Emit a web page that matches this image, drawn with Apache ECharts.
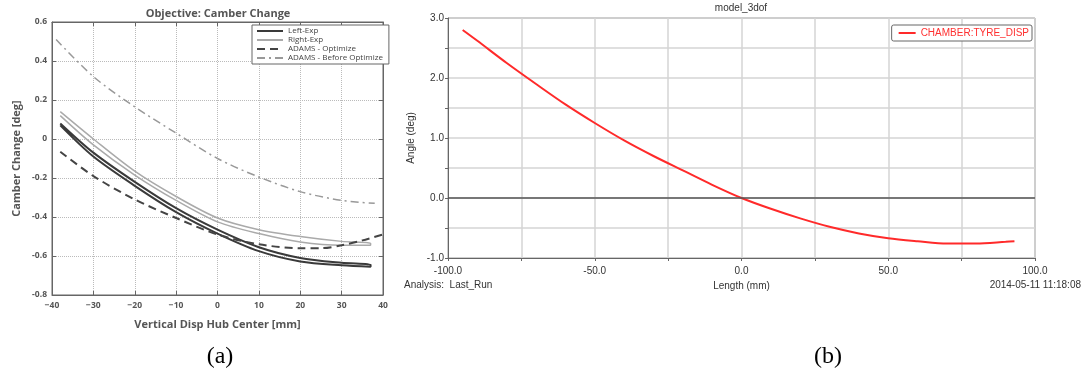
<!DOCTYPE html>
<html>
<head>
<meta charset="utf-8">
<script src="https://cdn.jsdelivr.net/npm/echarts@6/dist/echarts.min.js"></script>
<style>
  html, body { margin: 0; padding: 0; background: #fff; }
  #chart { width: 1085px; height: 374px; }
</style>
</head>
<body>
<div id="chart"></div>
<script>
// (a) camber change, x = vertical disp [mm], y = camber [deg]
var leftExp = [
  [-38, 0.08], [-30, -0.07], [-20, -0.22], [-10, -0.355], [0, -0.465], [10, -0.555],
  [20, -0.61], [30, -0.635], [37, -0.645],
  [37, -0.655], [30, -0.648], [20, -0.628], [10, -0.575], [0, -0.485], [-10, -0.375],
  [-20, -0.24], [-30, -0.09], [-38, 0.07]
];
var rightExp = [
  [-38, 0.14], [-30, 0.0], [-20, -0.165], [-10, -0.295], [0, -0.405], [10, -0.465],
  [20, -0.5], [30, -0.525], [37, -0.535],
  [37, -0.545], [30, -0.545], [20, -0.528], [10, -0.485], [0, -0.425], [-10, -0.315],
  [-20, -0.185], [-30, -0.03], [-38, 0.12]
];
var adamsOpt = [
  [-38, -0.065], [-30, -0.19], [-20, -0.31], [-10, -0.405], [0, -0.49], [10, -0.54],
  [20, -0.56], [25, -0.56], [30, -0.545], [35, -0.52], [40, -0.49]
];
var adamsBefore = [
  [-39, 0.51], [-30, 0.32], [-20, 0.165], [-10, 0.03], [0, -0.1], [10, -0.195],
  [20, -0.27], [30, -0.315], [38, -0.33]
];
var namesA = ["Left-Exp", "Right-Exp", "ADAMS - Optimize", "ADAMS - Before Optimize"];

// (b) model_3dof, x = length [mm], y = angle [deg]
var tyreDisp = [
  [-95, 2.8], [-90, 2.62], [-80, 2.25], [-70, 1.9], [-60, 1.56], [-50, 1.25],
  [-40, 0.96], [-30, 0.7], [-20, 0.46], [-10, 0.22], [0, 0.0], [10, -0.18],
  [20, -0.34], [30, -0.48], [40, -0.59], [50, -0.67], [60, -0.72], [70, -0.76],
  [80, -0.76], [90, -0.73], [93, -0.72]
];
var nameB = "CHAMBER:TYRE_DISP";

var fontA = "'Open Sans', 'DejaVu Sans', sans-serif";
var fontB = "'Liberation Sans', Arial, sans-serif";

var chart = echarts.init(document.getElementById("chart"));

// top / right frame ticks for panel (a), matlab style
function frameAxis(type, pos) {
  return {
    type: "value",
    gridIndex: 0,
    position: pos,
    min: type === "x" ? -40 : -0.8,
    max: type === "x" ? 40 : 0.6,
    interval: type === "x" ? 10 : 0.2,
    axisLine: { show: true, onZero: false, lineStyle: { color: "#666", width: 1 } },
    axisTick: { show: true, inside: true, length: 4, lineStyle: { color: "#666" } },
    axisLabel: { show: false },
    splitLine: { show: false }
  };
}

chart.setOption({
  animation: false,
  backgroundColor: "#fff",
  grid: [
    { left: 52, top: 22, width: 331, height: 273, show: true, borderColor: "#666", borderWidth: 1 },
    { left: 448, top: 18, width: 587, height: 240, show: true, borderColor: "#777", borderWidth: 1 }
  ],
  xAxis: [
    {
      type: "value", gridIndex: 0, min: -40, max: 40, interval: 10,
      name: "Vertical Disp Hub Center [mm]", nameLocation: "middle", nameGap: 24,
      nameTextStyle: { fontFamily: fontA, fontSize: 11, fontWeight: "bold", color: "#555" },
      axisLine: { onZero: false, lineStyle: { color: "#666" } },
      axisTick: { inside: true, length: 4, lineStyle: { color: "#666" } },
      axisLabel: {
        margin: 6, fontFamily: fontA, fontSize: 8.5, color: "#555", fontWeight: "bold",
        formatter: function (v) { return v < 0 ? "\u2212" + (-v) : String(v); }
      },
      splitLine: { show: true, lineStyle: { color: "#bbb", type: "dotted" } }
    },
    {
      type: "value", gridIndex: 1, min: -100, max: 100, interval: 25,
      name: "Length (mm)", nameLocation: "middle", nameGap: 22,
      nameTextStyle: { fontFamily: fontB, fontSize: 10, color: "#333" },
      axisLine: { onZero: false, lineStyle: { color: "#666" } },
      axisTick: { length: 3, lineStyle: { color: "#666" } },
      axisLabel: {
        margin: 8, fontFamily: fontB, fontSize: 10, color: "#333", showMinLabel: true, showMaxLabel: true,
        formatter: function (v) { return v % 50 === 0 ? v.toFixed(1) : ""; }
      },
      splitLine: { show: true, lineStyle: { color: "#d4d4d4", width: 1.5 } }
    },
    frameAxis("x", "top")
  ],
  yAxis: [
    {
      type: "value", gridIndex: 0, min: -0.8, max: 0.6, interval: 0.2,
      name: "Camber Change [deg]", nameLocation: "middle", nameGap: 30,
      nameTextStyle: { fontFamily: fontA, fontSize: 11, fontWeight: "bold", color: "#555" },
      axisLine: { onZero: false, lineStyle: { color: "#666" } },
      axisTick: { inside: true, length: 4, lineStyle: { color: "#666" } },
      axisLabel: {
        margin: 5, fontFamily: fontA, fontSize: 8.5, color: "#555", fontWeight: "bold",
        formatter: function (v) { return Math.abs(v) < 1e-9 ? "0" : v.toFixed(1); }
      },
      splitLine: { show: true, lineStyle: { color: "#bbb", type: "dotted" } }
    },
    {
      type: "value", gridIndex: 1, min: -1, max: 3, interval: 0.5,
      name: "Angle (deg)", nameLocation: "middle", nameGap: 32,
      nameTextStyle: { fontFamily: fontB, fontSize: 10, color: "#333" },
      axisLine: { onZero: false, lineStyle: { color: "#666" } },
      axisTick: { length: 3, lineStyle: { color: "#666" } },
      axisLabel: {
        margin: 4, fontFamily: fontB, fontSize: 10, color: "#333",
        formatter: function (v) { return Math.abs(v % 1) < 1e-9 ? v.toFixed(1) : ""; }
      },
      splitLine: { show: true, lineStyle: { color: "#d4d4d4", width: 1.5 } }
    },
    frameAxis("y", "right")
  ],
  legend: [
    {
      data: namesA,
      orient: "vertical",
      left: 252, top: 25, width: 128,
      itemWidth: 26, itemHeight: 8, itemGap: 1,
      padding: [2, 6, 2, 4],
      borderColor: "#666", borderWidth: 1,
      backgroundColor: "#fff",
      itemStyle: { opacity: 0 },
      textStyle: { fontFamily: fontA, fontSize: 8, color: "#444" }
    },
    {
      data: [nameB],
      right: 53, top: 25,
      itemWidth: 17, itemHeight: 8, itemGap: 2,
      padding: [3, 3, 3, 6],
      borderColor: "#666", borderWidth: 1, borderRadius: 2,
      backgroundColor: "#fff",
      itemStyle: { opacity: 0 },
      textStyle: { fontFamily: fontB, fontSize: 10, color: "#ff3030" }
    }
  ],
  graphic: [
    { type: "text", x: 218, y: 14, style: { text: "Objective: Camber Change", fill: "#555",
      font: "bold 11px " + fontA, textAlign: "center", textVerticalAlign: "middle", align: "center", verticalAlign: "middle" } },
    { type: "text", x: 741, y: 8, style: { text: "model_3dof", fill: "#333",
      font: "10px " + fontB, textAlign: "center", textVerticalAlign: "middle", align: "center", verticalAlign: "middle" } },
    { type: "text", x: 404, y: 285, style: { text: "Analysis:  Last_Run", fill: "#333",
      font: "10px " + fontB, textAlign: "left", textVerticalAlign: "middle", align: "left", verticalAlign: "middle" } },
    { type: "text", x: 1081, y: 285, style: { text: "2014-05-11 11:18:08", fill: "#333",
      font: "10px " + fontB, textAlign: "right", textVerticalAlign: "middle", align: "right", verticalAlign: "middle" } },
    { type: "text", x: 220, y: 357, style: { text: "(a)", fill: "#000",
      font: "24px 'Liberation Serif', serif", textAlign: "center", textVerticalAlign: "middle", align: "center", verticalAlign: "middle" } },
    { type: "text", x: 828, y: 357, style: { text: "(b)", fill: "#000",
      font: "24px 'Liberation Serif', serif", textAlign: "center", textVerticalAlign: "middle", align: "center", verticalAlign: "middle" } }
  ],
  series: [
    {
      name: namesA[0], type: "line", xAxisIndex: 0, yAxisIndex: 0, data: leftExp,
      smooth: 0.3, symbol: "none", lineStyle: { color: "#3a3a3a", width: 2 }, itemStyle: { color: "#3a3a3a" }
    },
    {
      name: namesA[1], type: "line", xAxisIndex: 0, yAxisIndex: 0, data: rightExp,
      smooth: 0.3, symbol: "none", lineStyle: { color: "#aaa", width: 1.5 }, itemStyle: { color: "#aaa" }
    },
    {
      name: namesA[2], type: "line", xAxisIndex: 0, yAxisIndex: 0, data: adamsOpt,
      smooth: 0.3, symbol: "none", lineStyle: { color: "#444", width: 2, type: [8, 5] }, itemStyle: { color: "#444" }
    },
    {
      name: namesA[3], type: "line", xAxisIndex: 0, yAxisIndex: 0, data: adamsBefore,
      smooth: 0.3, symbol: "none", lineStyle: { color: "#999", width: 1.5, type: [8, 4, 2, 4] }, itemStyle: { color: "#999" }
    },
    {
      name: nameB, type: "line", xAxisIndex: 1, yAxisIndex: 1, data: tyreDisp,
      smooth: 0.3, symbol: "none", lineStyle: { color: "#ff2a2a", width: 2 }, itemStyle: { color: "#ff2a2a" },
      markLine: {
        silent: true, symbol: "none", label: { show: false },
        lineStyle: { color: "#555", width: 1.5, type: "solid" },
        data: [{ yAxis: 0 }]
      }
    }
  ]
});
</script>
</body>
</html>
